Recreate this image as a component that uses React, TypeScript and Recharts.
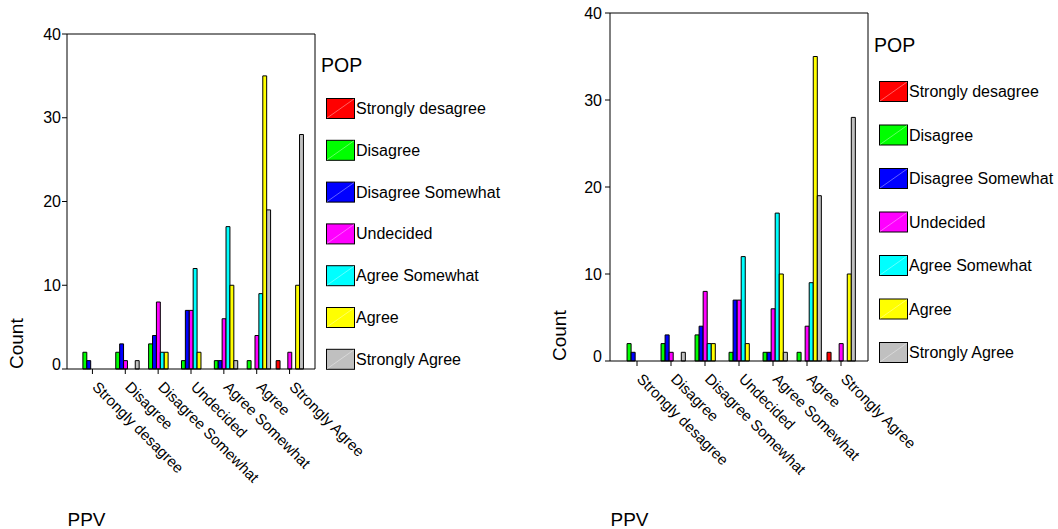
import { BarChart, Bar, XAxis, YAxis, Label, CartesianGrid } from "recharts";

const FONT = '"Liberation Sans", Arial, sans-serif';

// PPV categories on the x axis, POP levels as the grouped series
const ppvLevels = ["Strongly desagree", "Disagree", "Disagree Somewhat", "Undecided", "Agree Somewhat", "Agree", "Strongly Agree"];
const popLevels = ["Strongly desagree", "Disagree", "Disagree Somewhat", "Undecided", "Agree Somewhat", "Agree", "Strongly Agree"];
const popColors = ["#FF0000", "#00FF00", "#0000FF", "#FF00FF", "#00FFFF", "#FFFF00", "#C0C0C0"];

const popStronglyDesagree = [0, 0, 0, 0, 0, 0, 1];
const popDisagree = [2, 2, 3, 1, 1, 1, 0];
const popDisagreeSomewhat = [1, 3, 4, 7, 1, 0, 0];
const popUndecided = [0, 1, 8, 7, 6, 4, 2];
const popAgreeSomewhat = [0, 0, 2, 12, 17, 9, 0];
const popAgree = [0, 0, 2, 2, 10, 35, 10];
const popStronglyAgree = [0, 1, 0, 0, 1, 19, 28];

const countTicks = [0, 10, 20, 30, 40];

const popSeries = [popStronglyDesagree, popDisagree, popDisagreeSomewhat, popUndecided, popAgreeSomewhat, popAgree, popStronglyAgree];

const data = ppvLevels.map((ppv, i) => {
    const row: any = { ppv };
    popSeries.forEach((s, j) => { row["p" + j] = s[i]; });
    return row;
});

const PpvTick = ({ x, y, payload }: any) => (
    <g transform={`translate(${x - 1},${y + 12})`}>
        <text transform="rotate(45)" textAnchor="start" fontSize={15} fill="#000" fontFamily={FONT}>
            {payload.value}
        </text>
    </g>
);

const CountTick = ({ x, y, payload }: any) => (
    <text x={x} y={y} dy={payload.value === 0 ? -5 : 0} textAnchor="end" dominantBaseline="central"
        fontSize={16} fill="#000" fontFamily={FONT}>
        {payload.value}
    </text>
);

const CountLabel = ({ viewBox }: any) => {
    const x = viewBox.x - 14.5;
    const y = viewBox.y + viewBox.height;
    return (
        <text x={x} y={y} transform={`rotate(-90 ${x} ${y})`} textAnchor="start" fontSize={19} fill="#000" fontFamily={FONT}>
            Count
        </text>
    );
};

const PpvLabel = ({ viewBox }: any) => (
    <text x={viewBox.x + 0.5} y={526} fontSize={19} fill="#000" fontFamily={FONT}>PPV</text>
);

// frame of the plot: top and right edges, taken from the chart offset
const frameTop = ({ offset }: any) => [offset.top];
const frameRight = ({ offset }: any) => [offset.left + offset.width];

interface PanelProps {
    left: number;
    width: number;
    margin: { top: number; right: number; bottom: number; left: number };
    barSize: number;
    padding: number;
    yTickMargin: number;
}

function PopPanel({ left, width, margin, barSize, padding, yTickMargin }: PanelProps) {
    return (
        <div style={{ position: "absolute", left, top: 0 }}>
            <BarChart width={width} height={529} data={data} margin={margin} barSize={barSize} barGap={0}>
                <CartesianGrid
                    stroke="#000"
                    strokeWidth={1}
                    horizontalCoordinatesGenerator={frameTop}
                    verticalCoordinatesGenerator={frameRight}
                />
                <XAxis
                    dataKey="ppv"
                    height={120}
                    padding={{ left: padding, right: padding }}
                    interval={0}
                    tick={<PpvTick />}
                    tickSize={5}
                    tickMargin={2}
                    axisLine={{ stroke: "#000" }}
                    tickLine={{ stroke: "#000" }}
                >
                    <Label content={<PpvLabel />} />
                </XAxis>
                <YAxis
                    width={30}
                    domain={[0, 40]}
                    ticks={countTicks}
                    tick={<CountTick />}
                    tickSize={5}
                    tickMargin={yTickMargin}
                    axisLine={{ stroke: "#000" }}
                    tickLine={{ stroke: "#000" }}
                >
                    <Label content={<CountLabel />} />
                </YAxis>
                {popLevels.map((name, j) => (
                    <Bar key={name} dataKey={"p" + j} name={name} fill={popColors[j]} stroke="#000" strokeWidth={1} isAnimationActive={false} />
                ))}
            </BarChart>
        </div>
    );
}

interface LegendProps {
    left: number;
    titleY: number;
    firstTop: number;
    step: number;
}

function PopLegend({ left, titleY, firstTop, step }: LegendProps) {
    return (
        <svg style={{ position: "absolute", left: left - 8, top: 0 }} width={200} height={400}>
            <text x={3} y={titleY} fontSize={19.5} fill="#000" fontFamily={FONT}>POP</text>
            {popLevels.map((name, j) => {
                const top = firstTop + j * step;
                return (
                    <g key={name}>
                        <rect x={8.5} y={top + 0.5} width={28} height={20} fill={popColors[j]} stroke="#000" strokeWidth={1} />
                        <line x1={9} y1={top + 20} x2={36} y2={top + 1} stroke="rgba(255,255,255,0.55)" strokeWidth={0.7} />
                        <text x={38} y={top + 16} fontSize={16} fill="#000" fontFamily={FONT}>{name}</text>
                    </g>
                );
            })}
        </svg>
    );
}

export default function App() {
    return (
        <div style={{ position: "absolute", left: 0, top: 0, width: 1058, height: 529, background: "#fff", fontFamily: FONT }}>
            <PopPanel left={0} width={380} margin={{ top: 34, right: 65, bottom: 40, left: 37 }} barSize={3.9} padding={9} yTickMargin={1} />
            <PopPanel left={540} width={400} margin={{ top: 13, right: 72, bottom: 48, left: 40 }} barSize={4.05} padding={10} yTickMargin={3} />
            <PopLegend left={326} titleY={72} firstTop={98} step={41.8} />
            <PopLegend left={879} titleY={52} firstTop={81} step={43.5} />
        </div>
    );
}
